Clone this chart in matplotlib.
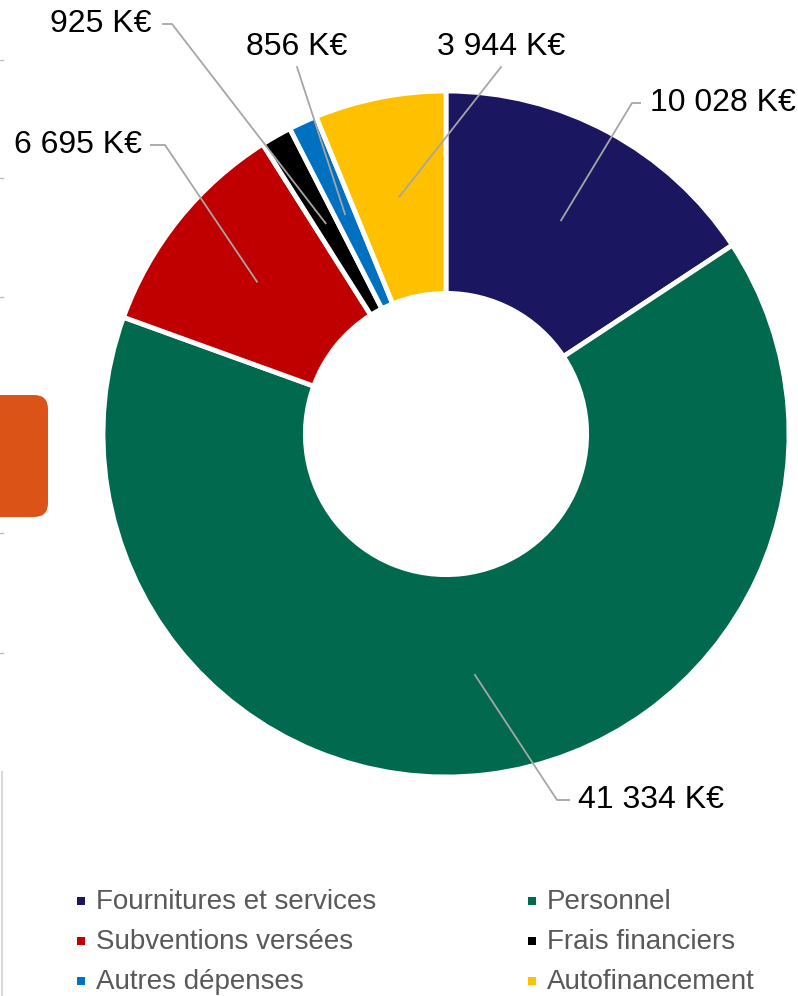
import matplotlib
matplotlib.use("Agg")
import matplotlib.pyplot as plt
import numpy as np
from matplotlib.patches import FancyBboxPatch, Rectangle

plt.rcParams['font.family'] = ['Liberation Sans', 'DejaVu Sans']

categories = ["Fournitures et services", "Personnel", "Subventions versées",
              "Frais financiers", "Autres dépenses", "Autofinancement"]
values = [10028, 41334, 6695, 925, 856, 3944]
value_labels = ["10 028 K€", "41 334 K€", "6 695 K€", "925 K€", "856 K€", "3 944 K€"]
colors = ["#1A1760", "#00694E", "#C00000", "#000000", "#0070C0", "#FFC000"]

# layout (pixel based)
W, H = 798, 996
CX, CY, RPX = 446, 434, 343


def p2d(x, y):
    return ((x - CX) / RPX, (CY - y) / RPX)


fig = plt.figure(figsize=(W / 100, H / 100), dpi=100)
ax = fig.add_axes([0, 0, 1, 1])

ax.pie(values, colors=colors, startangle=90, counterclock=False, radius=1,
       center=(0, 0),
       wedgeprops=dict(width=0.59, edgecolor="white", linewidth=3.5))
ax.set_xlim(p2d(0, 0)[0], p2d(W, 0)[0])
ax.set_ylim(p2d(0, H)[1], p2d(0, 0)[1])
ax.set_aspect("auto")
ax.axis("off")

# data labels: (text x, text y, ha, elbow start x, elbow end x) in px
label_layout = [
    (650, 103, "left", 641, 632),
    (578, 800, "left", 570, 557),
    (142, 145, "right", 150, 165),
    (152, 24, "right", 162, 172),
    (297, 47, "center", None, None),
    (501, 47, "center", None, None),
]
total = sum(values)
cum = np.cumsum([0] + values[:-1])
r_mid = 0.705
for v, c0, lab, lay in zip(values, cum, value_labels, label_layout):
    frac = (c0 + v / 2) / total
    ang = np.deg2rad(90 - 360 * frac)
    ix, iy = r_mid * np.cos(ang), r_mid * np.sin(ang)
    tx, ty, ha, e0, e1 = lay
    ax.text(*p2d(tx, ty), lab, ha=ha, va="center", fontsize=23, color="black")
    if e0 is not None:
        a = p2d(e0, ty)
        b = p2d(e1, ty)
        ax.plot([a[0], b[0], ix], [a[1], b[1], iy], color="#A6A6A6", lw=1.3,
                solid_capstyle="butt")
    else:
        a = p2d(tx, ty + 20)
        ax.plot([a[0], ix], [a[1], iy], color="#A6A6A6", lw=1.3)

# legend (manual, 2 columns)
for i, (cat, col) in enumerate(zip(categories, colors)):
    r, c = divmod(i, 2)
    mx = 77 if c == 0 else 528
    my = 901 + 40 * r
    x0, y0 = p2d(mx, my + 4)
    ax.add_patch(Rectangle((x0, y0), 8 / RPX, 8 / RPX, color=col, lw=0))
    ax.text(*p2d(mx + 19, my + 1), cat, ha="left", va="center",
            fontsize=20, color="#595959")

# left-edge artefacts
x0, y0 = p2d(-20, 517)
ax.add_patch(FancyBboxPatch((x0, y0), 68 / RPX, 122 / RPX,
                            boxstyle=f"round,pad=0,rounding_size={14 / RPX}",
                            facecolor="#DC5318", edgecolor="none"))
for ty in [60, 178, 297, 533, 653]:
    a = p2d(0, ty)
    b = p2d(3, ty)
    ax.plot([a[0], b[0]], [a[1], b[1]], color="#BFBFBF", lw=1)
a = p2d(2, 772)
b = p2d(2, 996)
ax.plot([a[0], b[0]], [a[1], b[1]], color="#D9D9D9", lw=1.5)

fig.savefig("out.png", dpi=100)
